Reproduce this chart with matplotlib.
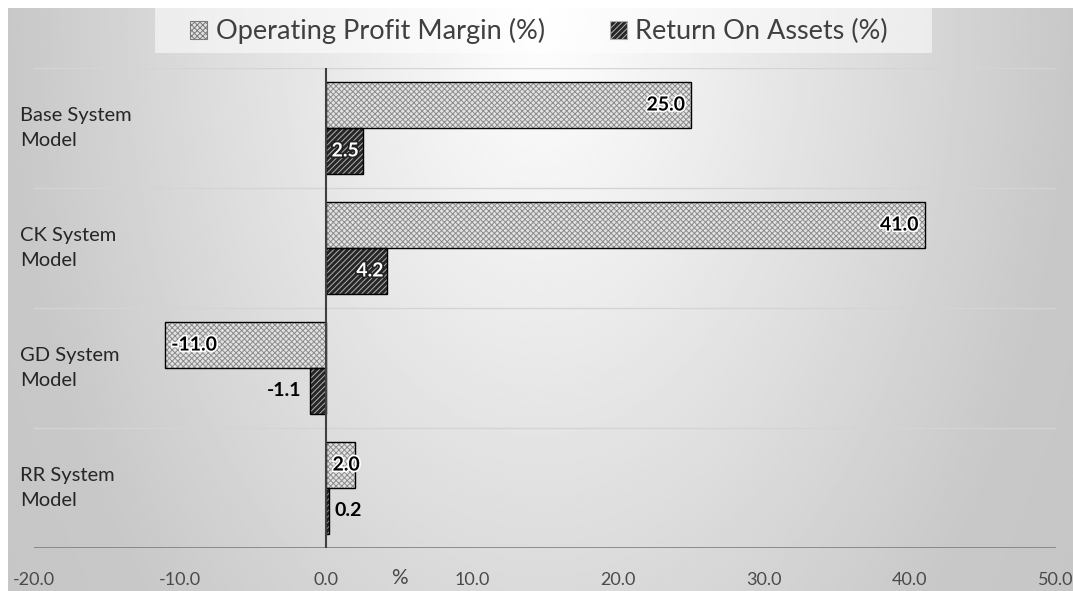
import numpy as np
import matplotlib
matplotlib.use("Agg")
import matplotlib.pyplot as plt
import matplotlib.patheffects as pe
from matplotlib.patches import Patch, Rectangle

plt.rcParams['font.family'] = ['Lato', 'DejaVu Sans']
plt.rcParams['hatch.linewidth'] = 0.7

# data
categories = ["Base System\nModel", "CK System\nModel", "GD System\nModel", "RR System\nModel"]
op_margin = [25.0, 41.0, -11.0, 2.0]
roa = [2.5, 4.2, -1.1, 0.2]
series_names = ["Operating Profit Margin (%)", "Return On Assets (%)"]
xticks = [-20, -10, 0, 10, 20, 30, 40, 50]

W, H = 1073, 591
fig = plt.figure(figsize=(W / 100, H / 100), dpi=100)

# radial grey background like the Excel chart area
bg = fig.add_axes([8 / W, 0, 1 - 8 / W, 1 - 8 / H], zorder=0)
gx, gy = np.meshgrid(np.linspace(0, 1, 400), np.linspace(0, 1, 220))
r = np.sqrt(((gx - 0.5) / 0.5) ** 2 + (gy / 1.5) ** 2)
shade = (255 - 55 * np.clip(r, 0, 1.0) - 10 * np.clip(r - 1.0, 0, 0.3)) / 255
bg.imshow(shade, cmap="gray", vmin=0, vmax=1, aspect="auto", extent=[0, 1, 1, 0],
          interpolation="bilinear")
bg.axis("off")

# legend backing box
fig.patches.append(Rectangle((155 / W, 1 - 53 / H), (932 - 155) / W, 45 / H,
                             transform=fig.transFigure, facecolor="white", alpha=0.55,
                             edgecolor="none", zorder=1))

ax = fig.add_axes([34 / W, 1 - 548 / H, (1056 - 34) / W, (548 - 68) / H], zorder=1)
ax.patch.set_alpha(0)

y = np.arange(len(categories))
h = 0.383

# fill + hatch first, then black outline on top
ax.barh(y - h / 2, op_margin, height=h, color="#e2e2e2", edgecolor="#8c8c8c",
        hatch="xxxxxx", linewidth=0, zorder=3)
ax.barh(y - h / 2, op_margin, height=h, fill=False, edgecolor="black", linewidth=1, zorder=4)
ax.barh(y + h / 2, roa, height=h, color="#262626", edgecolor="#b0b0b0",
        hatch="//////", linewidth=0, zorder=3)
ax.barh(y + h / 2, roa, height=h, fill=False, edgecolor="black", linewidth=1, zorder=4)

ax.set_xlim(-20, 50)
ax.set_ylim(3.5, -0.5)
ax.axvline(0, color="#404040", linewidth=1.5, zorder=5)
for b in np.arange(-0.5, 4, 1.0):
    col = "#7f7f7f" if b == 3.5 else "#d4d4d4"
    ax.axhline(b, color=col, linewidth=1.2 if b == 3.5 else 1, zorder=2)

for s in ax.spines.values():
    s.set_visible(False)
ax.set_yticks([])
ax.set_xticks(xticks)
ax.set_xticklabels([f"{v:.1f}" for v in xticks], fontsize=13, color="#4a4a4a")
ax.tick_params(axis="x", length=0, pad=17)
ax.text(5, -0.062, "%", transform=ax.get_xaxis_transform(), ha="center", va="center",
        fontsize=15, color="#4a4a4a")

for i, c in enumerate(categories):
    ax.text(-14 / (1056 - 34), i, c, transform=ax.get_yaxis_transform(), ha="left",
            va="center", fontsize=14.5, color="#262626", linespacing=1.55)

dark_glow = [pe.withStroke(linewidth=2.5, foreground="#222222")]
light_glow = [pe.withStroke(linewidth=2.5, foreground="white")]

# value labels
for i, v in enumerate(op_margin):
    if v >= 5:
        ax.text(v - 0.4, i - h / 2, f"{v:.1f}", ha="right", va="center", fontsize=14,
                fontweight="bold", color="black", path_effects=light_glow, zorder=6)
    elif v >= 0:
        ax.text(0.45, i - h / 2, f"{v:.1f}", ha="left", va="center", fontsize=14,
                fontweight="bold", color="black", path_effects=light_glow, zorder=6)
    else:
        ax.text(v + 0.4, i - h / 2, f"{v:.1f}", ha="left", va="center", fontsize=14,
                fontweight="bold", color="black", path_effects=light_glow, zorder=6)
for i, v in enumerate(roa):
    if abs(v) >= 2:
        ax.text(v - 0.25, i + h / 2, f"{v:.1f}", ha="right", va="center", fontsize=14,
                fontweight="bold", color="white", path_effects=dark_glow, zorder=6)
    elif v < 0:
        ax.text(v - 0.6, i + h / 2, f"{v:.1f}", ha="right", va="center", fontsize=14,
                fontweight="bold", color="black", zorder=6)
    else:
        ax.text(v + 0.35, i + h / 2, f"{v:.1f}", ha="left", va="center", fontsize=14,
                fontweight="bold", color="black", zorder=6)

handles = [Patch(facecolor="#e2e2e2", edgecolor="#7a7a7a", hatch="xxxxxx", linewidth=0.8),
           Patch(facecolor="#262626", edgecolor="#b0b0b0", hatch="//////", linewidth=0.8)]
leg = fig.legend(handles, series_names, loc="center", bbox_to_anchor=(539 / W, 1 - 31 / H),
                 ncol=2, fontsize=19.5, frameon=False, handlelength=0.65, handleheight=0.65,
                 columnspacing=2.4, handletextpad=0.3)
for t in leg.get_texts():
    t.set_color("#404040")

fig.savefig("out.png", dpi=100)
